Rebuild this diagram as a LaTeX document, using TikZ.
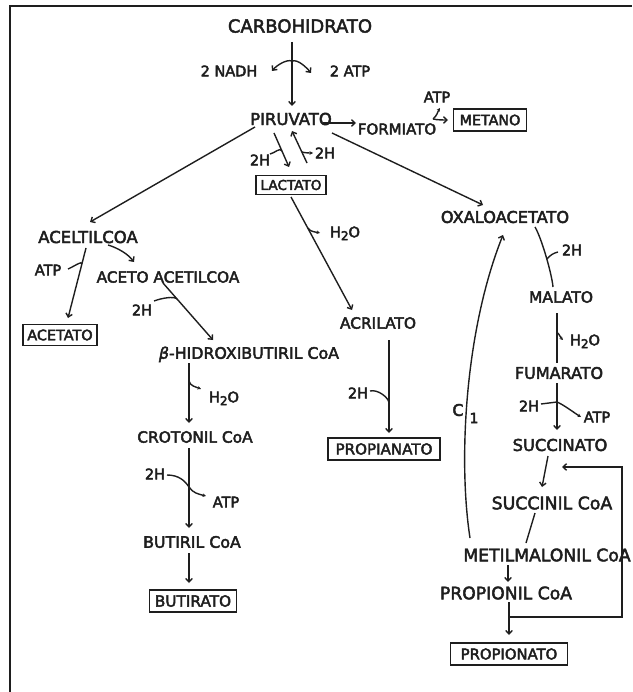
\documentclass[tikz,border=0pt]{standalone}
\usepackage{fontspec}
\setmainfont{DejaVu Sans}
\usetikzlibrary{calc,arrows.meta}
\definecolor{ink}{HTML}{1E1E1E}
\newcommand{\heavy}{\special{pdf:literal direct 2 Tr 0.45 w}}
\tikzset{
  fs/.code={\pgfmathsetlengthmacro\capht{0.73*#1pt}\tikzset{font=\fontsize{#1}{#1}\selectfont\heavy,text height=\capht,text depth=0pt}},
  lbl/.style={inner sep=0pt, text=ink, fs=16},
  sm/.style={lbl, fs=14.5},
  bx/.style={lbl, draw=ink, line width=1.5pt, minimum height=22pt},
  conn/.style={draw=ink, line width=1.4pt},
  arr/.style={conn, -{Straight Barb[length=3.5pt,width=6.5pt]}},
  dotarr/.style={conn, -{Stealth[length=3.5pt,width=3.5pt]}},
}
\newcommand{\hdo}{H\raisebox{-0.35ex}{\fontsize{12}{12}\selectfont 2}O}
\begin{document}
\begin{tikzpicture}[x=1pt,y=-1pt]
\useasboundingbox (0,0) rectangle (632,692);
\draw[ink,line width=2pt] (10,692) -- (10,6) -- (632,6);

% nodes
\node[lbl,fs=18] (carb) at (300,26) {CARBOHIDRATO};
\node[sm] (nadh) at (229,71) {2 NADH};
\node[sm] (atpa) at (350,71) {2 ATP};
\node[lbl,fs=16.5] (piru) at (291,119) {PIRUVATO};
\node[lbl,fs=15] (form) at (397,129) {FORMIATO};
\node[sm] (atpb) at (437,97) {ATP};
\node[bx,fs=14.3,minimum width=73pt] (metano) at (490,120) {METANO};
\node[bx,fs=13.6,minimum width=70pt,minimum height=19pt] (lact) at (291,185) {LACTATO};
\node[sm] (hl) at (260,160) {2H};
\node[sm] (hr) at (325,153) {2H};
\node[lbl,fs=16.5] (acel) at (88,237) {ACELTILCOA};
\node[lbl,fs=15.3] (aceto) at (168,277) {ACETO ACETILCOA};
\node[sm] (atpc) at (48,270) {ATP};
\node[bx,fs=14.4,minimum width=74pt,minimum height=21pt] (acetato) at (60,335) {ACETATO};
\node[sm] (ha) at (142,310) {2H};
\node[lbl,fs=15.8] (hidro) at (249,353) {{\itshape β}-HIDROXIBUTIRIL CoA};
\node[sm] (h2oa) at (224,397) {\hdo};
\node[lbl,fs=15.4] (croto) at (195,437) {CROTONIL CoA};
\node[sm] (hb) at (155,474) {2H};
\node[sm] (atpd) at (226,502) {ATP};
\node[lbl,fs=15.8] (butiril) at (192,542) {BUTIRIL CoA};
\node[bx,fs=15.3,minimum width=87pt] (butirato) at (193,601) {BUTIRATO};
\node[sm] (h2ob) at (345,232) {\hdo};
\node[lbl,fs=15.4] (acril) at (378,323) {ACRILATO};
\node[sm] (hc) at (358,393) {2H};
\node[bx,fs=15.1,minimum width=112pt] (propia) at (384,449) {PROPIANATO};
\node[lbl,fs=16.2] (oxa) at (505,217) {OXALOACETATO};
\node[sm] (hd) at (572,250) {2H};
\node[lbl,fs=15.5] (malato) at (561,297) {MALATO};
\node[sm] (h2oc) at (585,340) {\hdo};
\node[lbl,fs=16] (fuma) at (559,373) {FUMARATO};
\node[sm] (he) at (529,406) {2H};
\node[sm] (atpe) at (597,417) {ATP};
\node[lbl,fs=16.3] (succ) at (560,445) {SUCCINATO};
\node[lbl,fs=17.3] (succoa) at (552,503) {SUCCINIL CoA};
\node[lbl,fs=17.2] (metil) at (547,555) {METILMALONIL CoA};
\node[lbl,fs=17.2] (propcoa) at (506,593) {PROPIONIL CoA};
\node[bx,fs=14.8,minimum width=117pt] (propio) at (509,654) {PROPIONATO};

% carbohidrato -> piruvato
\coordinate (br) at ($(carb)+(-8,35)$);
\draw[arr] ($(carb)+(-8,16)$) -- ($(piru)+(1,-13)$);
\draw[arr] (br) .. controls +(-6,-2) and +(4,-5) .. ($(nadh)+(43,0)$);
\draw[arr] (br) .. controls +(6,-2) and +(-4,-5) .. ($(atpa)+(-39,2)$);

% piruvato -> formiato -> metano
\draw[arr] ($(piru)+(32,4)$) -- ($(form)+(-41,-6)$);
\coordinate (fz) at ($(form)+(36,-10)$);
\draw[dotarr] (fz) .. controls +(4,-3) and +(-2,3) .. ($(atpb)+(3,11)$);
\draw[arr] (fz) .. controls +(4,1) and +(-4,0) .. ($(metano)+(-42,0)$);

% piruvato <-> lactato
\draw[arr] ($(piru)+(-17,14)$) -- ($(lact)+(-2,-18)$);
\draw[arr] ($(lact)+(16,-22)$) -- ($(piru)+(1,12)$);
\draw[conn] ($(hl)+(10,-6)$) .. controls +(5,-1) and +(-2,-4) .. ($(piru)+(-9,32)$);
\draw[dotarr] ($(lact)+(11,-33)$) .. controls +(3,1) and +(-3,0) .. ($(hr)+(-12,0)$);

% piruvato -> aceltilcoa / oxaloacetato
\draw[arr] ($(piru)+(-36,8)$) -- ($(acel)+(2,-15)$);
\draw[arr] ($(piru)+(41,14)$) -- ($(oxa)+(-22,-12)$);

% aceltilcoa branch
\draw[arr] ($(acel)+(20,8)$) .. controls +(10,3) and +(-6,-8) .. ($(aceto)+(-34,-15)$);
\draw[arr] ($(acel)+(-2,11)$) -- ($(acetato)+(8,-17)$);
\draw[conn] ($(atpc)+(20,-1)$) .. controls +(5,-2) and +(1,-4) .. ($(acel)+(-6,27)$);

% butirato pathway
\draw[arr] ($(aceto)+(-5,6)$) -- ($(hidro)+(-36,-13)$);
\draw[conn] ($(ha)+(12,-9)$) .. controls +(8,-3) and +(-3,-3) .. ($(aceto)+(9,22)$);
\draw[arr] ($(hidro)+(-60,10)$) -- ($(croto)+(-6,-14)$);
\draw[dotarr] ($(hidro)+(-60,28)$) .. controls +(1,5) and +(-5,-2) .. ($(h2oa)+(-23,-8)$);
\draw[arr] ($(croto)+(-6,11)$) -- ($(butiril)+(-3,-14)$);
\coordinate (xb) at ($(croto)+(-6,50)$);
\draw[dotarr] ($(hb)+(12,1)$) .. controls +(12,0) and +(-4,-6) .. (xb) .. controls +(4,6) and +(-8,-2) .. ($(atpd)+(-20,-6)$);
\draw[arr] ($(butiril)+(-3,11)$) -- ($(butirato)+(-4,-18)$);

% lactato -> acrilato -> propianato
\draw[arr] ($(lact)+(0,12)$) -- ($(acril)+(-26,-13)$);
\draw[dotarr] ($(lact)+(17,43)$) .. controls +(2,4) and +(-4,-1) .. ($(h2ob)+(-25,1)$);
\draw[arr] ($(acril)+(11,17)$) -- ($(propia)+(5,-16)$);
\draw[conn] ($(hc)+(12,-2)$) .. controls +(8,-2) and +(0,-5) .. ($(acril)+(11,80)$);

% oxaloacetato cycle
\draw[conn] ($(oxa)+(30,10)$) .. controls +(7,12) and +(-1,-12) .. ($(malato)+(-8,-10)$);
\draw[conn] ($(oxa)+(42,42)$) .. controls +(3,-4) and +(-4,1) .. ($(hd)+(-14,2)$);
\draw[conn] ($(malato)+(-4,16)$) -- ($(fuma)+(-2,-10)$);
\draw[dotarr] ($(malato)+(-3,36)$) .. controls +(1,3) .. ($(h2oc)+(-22,0)$);
\draw[arr] ($(fuma)+(-2,10)$) -- ($(succ)+(-3,-15)$);
\coordinate (xe) at ($(fuma)+(-2,29)$);
\draw[conn] ($(he)+(12,-2)$) -- (xe);
\draw[dotarr] (xe) .. controls +(7,3) and +(-8,-5) .. ($(atpe)+(-16,0)$);
\draw[arr] ($(succ)+(-12,11)$) -- ($(succoa)+(-10,-16)$);
\draw[conn] ($(succoa)+(-17,10)$) -- ($(metil)+(-21,-12)$);
\draw[arr] ($(metil)+(-39,10)$) -- ($(propcoa)+(2,-11)$);
\draw[arr] ($(propcoa)+(3,9)$) -- ($(propio)+(0,-19)$);
\draw[arr] ($(propio)+(0,-37)$) -- ++(113,0) |- ($(succ)+(2,22)$);

% C1 curve
\draw[arr] ($(metil)+(-77,-17)$) .. controls +(-12,-78) and +(-38,95) .. ($(oxa)+(-2,18)$);
\node[lbl,fs=16,fill=white,inner sep=1.5pt] (cone) at (458,410) {C};
\node[lbl,fs=14] (one) at (474,418) {1};
\end{tikzpicture}
\end{document}
